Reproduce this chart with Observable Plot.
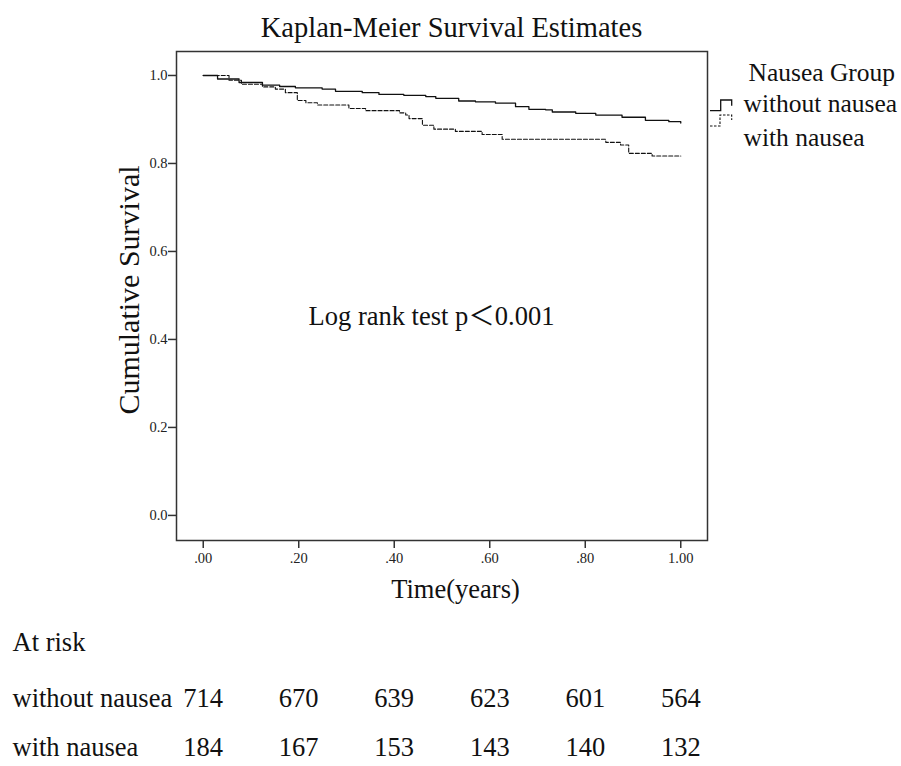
<!DOCTYPE html>
<html>
<head>
<meta charset="utf-8">
<script src="https://cdn.jsdelivr.net/npm/d3@7"></script>
<script src="https://cdn.jsdelivr.net/npm/@observablehq/plot@0.6"></script>
<style>
  html, body { margin: 0; padding: 0; background: #fff; }
  svg { display: block; }
</style>
</head>
<body>
<div id="chart"></div>
<script>
// ---- data ----
const groups = ["without nausea", "with nausea"];
const timesWithout = [0, 0.03, 0.075, 0.124, 0.16, 0.193, 0.249, 0.277, 0.333, 0.368, 0.42, 0.466, 0.487, 0.535, 0.57, 0.612, 0.654, 0.682, 0.717, 0.731, 0.78, 0.822, 0.877, 0.926, 0.975, 1.0];
const survWithout  = [1.0, 0.992, 0.984, 0.978, 0.975, 0.972, 0.969, 0.964, 0.961, 0.957, 0.955, 0.952, 0.948, 0.942, 0.940, 0.937, 0.929, 0.923, 0.922, 0.917, 0.914, 0.910, 0.905, 0.898, 0.895, 0.892];
const timesWith = [0, 0.054, 0.080, 0.124, 0.151, 0.172, 0.197, 0.215, 0.239, 0.305, 0.340, 0.411, 0.424, 0.431, 0.459, 0.483, 0.528, 0.584, 0.626, 0.843, 0.874, 0.891, 0.940, 1.0];
const survWith  = [1.0, 0.989, 0.980, 0.974, 0.969, 0.961, 0.943, 0.938, 0.933, 0.925, 0.920, 0.915, 0.910, 0.902, 0.887, 0.878, 0.873, 0.866, 0.855, 0.848, 0.842, 0.823, 0.817, 0.817];

const xTicks = [0, 0.2, 0.4, 0.6, 0.8, 1.0];
const xTickLabels = [".00", ".20", ".40", ".60", ".80", "1.00"];
const yTicks = [0, 0.2, 0.4, 0.6, 0.8, 1.0];
const yTickLabels = ["0.0", "0.2", "0.4", "0.6", "0.8", "1.0"];

const atRiskTimes = [0, 0.2, 0.4, 0.6, 0.8, 1.0];
const atRiskWithout = [714, 670, 639, 623, 601, 564];
const atRiskWith = [184, 167, 153, 143, 140, 132];

const titleText = "Kaplan-Meier Survival Estimates";
const legendTitle = "Nausea Group";
const xLabel = "Time(years)";
const yLabel = "Cumulative Survival";
const atRiskLabel = "At risk";
const noteText = "Log rank test p\uFF1C0.001";
const noteX = 0.478, noteY = 0.451;

// ---- tables ----
const lineWithout = timesWithout.map((t, i) => ({t, s: survWithout[i]}));
const lineWith = timesWith.map((t, i) => ({t, s: survWith[i]}));
const riskWithout = atRiskTimes.map((t, i) => ({t, n: atRiskWithout[i]}));
const riskWith = atRiskTimes.map((t, i) => ({t, n: atRiskWith[i]}));

const serif = "'Liberation Serif', 'Times New Roman', serif";
const ink = "#222";

const chart = Plot.plot({
  width: 901,
  height: 766,
  marginLeft: 176,
  marginRight: 194,
  marginTop: 51,
  marginBottom: 226,
  style: {fontFamily: serif, fontSize: "14.5px", background: "#fff", color: ink, overflow: "visible"},
  x: {domain: [-0.056, 1.056]},
  y: {domain: [-0.057, 1.0545]},
  marks: [
    Plot.frame({stroke: "#333", strokeWidth: 1.5}),
    Plot.axisX({ticks: xTicks, tickFormat: (d, i) => xTickLabels[i], tickSize: 8, tickPadding: 4,
      fontSize: 14.5, stroke: "#333", strokeWidth: 1.5, label: null}),
    Plot.axisY({ticks: yTicks, tickFormat: (d, i) => yTickLabels[i], tickSize: 8, tickPadding: 1,
      fontSize: 14.5, stroke: "#333", strokeWidth: 1.5, label: null}),
    Plot.line(lineWithout, {x: "t", y: "s", curve: "step-after", stroke: "#111", strokeWidth: 1.3}),
    Plot.line(lineWith, {x: "t", y: "s", curve: "step-after", stroke: "#111", strokeWidth: 1.1, strokeDasharray: "4,2"}),
    Plot.text([noteText], {x: noteX, y: noteY, text: d => d, fontSize: 26.5, fill: "#111",
      fontFamily: "'Liberation Serif', 'Noto Sans CJK SC', serif"}),
    // title
    Plot.text([titleText], {frameAnchor: "top", text: d => d, dx: 9.5, dy: -15, lineAnchor: "bottom", fontSize: 28.5, fill: "#111"}),
    // axis labels
    Plot.text([xLabel], {frameAnchor: "bottom", text: d => d, dx: 13.5, dy: 57, lineAnchor: "bottom", fontSize: 26.5, fill: "#111"}),
    Plot.text([yLabel], {frameAnchor: "left", text: d => d, rotate: -90, textAnchor: "middle", lineAnchor: "middle", dx: -47, dy: -6, fontSize: 30, fill: "#111"}),
    // legend texts
    Plot.text([legendTitle], {frameAnchor: "top-right", text: d => d, textAnchor: "start", dx: 41, dy: 29, lineAnchor: "bottom", fontSize: 25.5, fill: "#111"}),
    Plot.text([groups[0]], {frameAnchor: "top-right", text: d => d, textAnchor: "start", dx: 36, dy: 60.5, lineAnchor: "bottom", fontSize: 25.5, fill: "#111"}),
    Plot.text([groups[1]], {frameAnchor: "top-right", text: d => d, textAnchor: "start", dx: 36, dy: 94, lineAnchor: "bottom", fontSize: 25.5, fill: "#111"}),
    // at risk
    Plot.text([atRiskLabel], {frameAnchor: "bottom-left", text: d => d, textAnchor: "start", dx: -164, dy: 110, lineAnchor: "bottom", fontSize: 26.5, fill: "#111"}),
    Plot.text([groups[0]], {frameAnchor: "bottom-left", text: d => d, textAnchor: "start", dx: -164, dy: 166, lineAnchor: "bottom", fontSize: 26.5, fill: "#111"}),
    Plot.text([groups[1]], {frameAnchor: "bottom-left", text: d => d, textAnchor: "start", dx: -164, dy: 215, lineAnchor: "bottom", fontSize: 26.5, fill: "#111"}),
    Plot.text(riskWithout, {x: "t", frameAnchor: "bottom", text: "n", dy: 166, lineAnchor: "bottom", fontSize: 26.5, fill: "#111"}),
    Plot.text(riskWith, {x: "t", frameAnchor: "bottom", text: "n", dy: 215, lineAnchor: "bottom", fontSize: 26.5, fill: "#111"})
  ]
});

// legend step glyphs
const svg = d3.select(chart);
const x0 = 901 - 194 + 3;
svg.append("path")
  .attr("d", `M${x0},110.7H${x0 + 10.7}V100H${x0 + 21.7}V105.7`)
  .attr("fill", "none").attr("stroke", "#111").attr("stroke-width", 1.3);
svg.append("path")
  .attr("d", `M${x0},126H${x0 + 10}V115H${x0 + 21.7}V120`)
  .attr("fill", "none").attr("stroke", "#111").attr("stroke-width", 1.1).attr("stroke-dasharray", "2.5,1.5");

document.getElementById("chart").appendChild(chart);
</script>
</body>
</html>
